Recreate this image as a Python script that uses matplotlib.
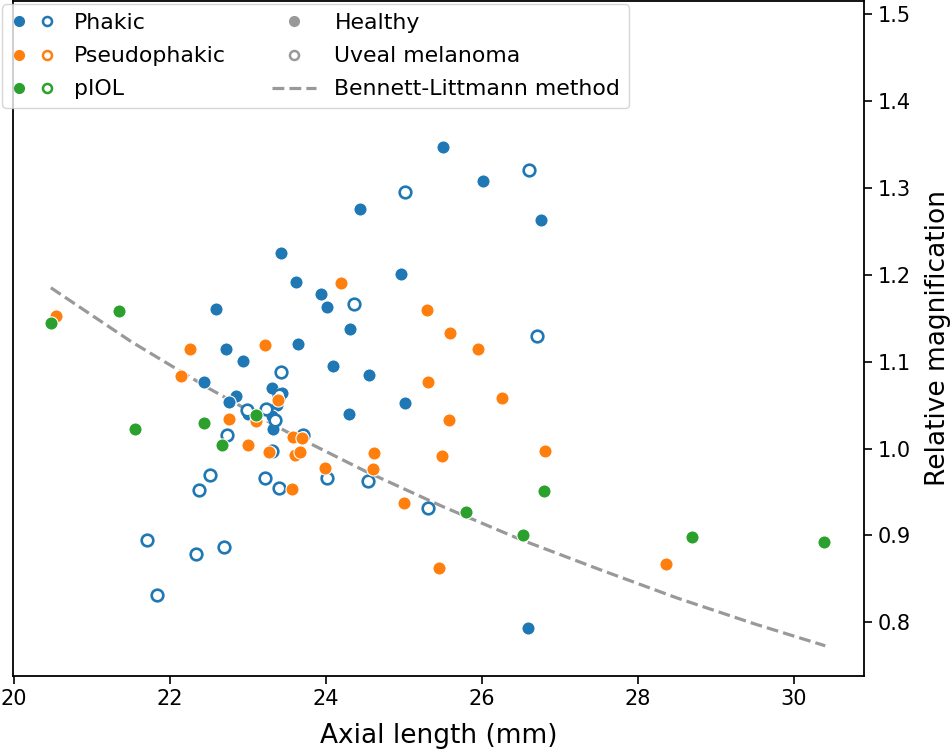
import matplotlib
matplotlib.use("Agg")
import matplotlib.pyplot as plt
from matplotlib.lines import Line2D
from matplotlib.legend_handler import HandlerTuple

# Phakic, healthy (filled)
phakic_h_x = [25.50, 26.01, 26.75, 24.43, 23.42, 23.61, 24.96, 23.94, 24.01, 22.59,
              24.30, 23.64, 22.71, 22.93, 24.09, 24.55, 22.44, 22.85, 22.75, 23.30,
              23.43, 23.37, 25.01, 24.29, 23.00, 23.30, 23.32, 26.59]
phakic_h_y = [1.347, 1.308, 1.263, 1.276, 1.225, 1.192, 1.201, 1.178, 1.163, 1.161,
              1.137, 1.120, 1.115, 1.101, 1.095, 1.085, 1.076, 1.060, 1.054, 1.070,
              1.064, 1.050, 1.052, 1.040, 1.040, 1.037, 1.023, 0.793]

# Phakic, uveal melanoma (open)
phakic_um_x = [26.60, 25.01, 24.36, 26.70, 23.42, 23.40, 22.99, 23.23, 23.35, 23.70,
               22.73, 23.30, 22.51, 22.37, 23.21, 23.40, 24.01, 24.54, 25.31, 21.70,
               22.33, 22.69, 21.83]
phakic_um_y = [1.321, 1.295, 1.166, 1.129, 1.088, 1.062, 1.044, 1.045, 1.033, 1.016,
               1.015, 0.997, 0.970, 0.952, 0.966, 0.954, 0.966, 0.963, 0.931, 0.895,
               0.879, 0.887, 0.832]

# Pseudophakic
pseudo_x = [24.19, 20.53, 25.29, 25.59, 25.95, 23.22, 22.25, 25.30, 22.14, 23.38,
            25.57, 22.75, 23.10, 23.00, 23.27, 23.57, 23.69, 23.60, 23.67, 24.62,
            25.48, 23.98, 24.60, 23.56, 25.00, 26.26, 26.81, 25.45, 28.36]
pseudo_y = [1.190, 1.152, 1.159, 1.133, 1.115, 1.119, 1.114, 1.077, 1.084, 1.056,
            1.033, 1.034, 1.032, 1.004, 0.996, 1.013, 1.012, 0.993, 0.996, 0.995,
            0.991, 0.978, 0.977, 0.953, 0.937, 1.058, 0.997, 0.862, 0.867]

# pIOL
piol_x = [21.34, 20.47, 21.55, 22.43, 23.10, 22.67, 25.79, 26.80, 26.53, 28.69, 30.39]
piol_y = [1.158, 1.145, 1.023, 1.029, 1.039, 1.004, 0.927, 0.951, 0.900, 0.898, 0.892]

# Bennett-Littmann curve
bl_x = [20.47, 21.5, 22.5, 23.5, 24.5, 25.5, 26.5, 27.5, 28.5, 29.5, 30.4]
bl_y = [1.185, 1.123, 1.069, 1.019, 0.974, 0.933, 0.895, 0.861, 0.828, 0.798, 0.773]

blue = "#1f77b4"
orange = "#ff7f0e"
green = "#2ca02c"
grey = "#999999"

fig = plt.figure(figsize=(9.52, 7.51), dpi=100)
ax = fig.add_axes([0.0133, 0.1003, 0.8945, 0.8984])

ax.plot(bl_x, bl_y, "--", color=grey, lw=2.3, zorder=1)

ax.scatter(phakic_h_x, phakic_h_y, s=90, color=blue, edgecolors="white", linewidths=0.8, zorder=2)
ax.scatter(phakic_um_x, phakic_um_y, s=70, facecolors="white", edgecolors=blue, linewidths=1.9, zorder=2)
ax.scatter(pseudo_x, pseudo_y, s=90, color=orange, edgecolors="white", linewidths=0.8, zorder=2)
ax.scatter(piol_x, piol_y, s=90, color=green, edgecolors="white", linewidths=0.8, zorder=2)

ax.set_xlim(19.98, 30.9)
ax.set_ylim(0.7386, 1.515)
ax.set_xticks([20, 22, 24, 26, 28, 30])
ax.set_yticks([0.8, 0.9, 1.0, 1.1, 1.2, 1.3, 1.4, 1.5])
ax.yaxis.tick_right()
ax.yaxis.set_label_position("right")
ax.tick_params(labelsize=15, length=6, width=1.2)
for sp in ax.spines.values():
    sp.set_linewidth(1.3)
ax.set_xlabel("Axial length (mm)", fontsize=19, labelpad=10)
ax.set_ylabel("Relative magnification", fontsize=19, labelpad=10)


def dot(c, filled=True):
    if filled:
        return Line2D([], [], ls="", marker="o", ms=7, mfc=c, mec=c)
    return Line2D([], [], ls="", marker="o", ms=6.5, mfc="white", mec=c, mew=1.8)


handles = [(dot(blue), dot(blue, False)),
           (dot(orange), dot(orange, False)),
           (dot(green), dot(green, False)),
           dot(grey), dot(grey, False),
           Line2D([], [], ls="--", color=grey, lw=2.3)]
labels = ["Phakic", "Pseudophakic", "pIOL", "Healthy", "Uveal melanoma",
          "Bennett-Littmann method"]

ax.legend(handles, labels, ncol=2, loc="upper left", bbox_to_anchor=(-0.012, 0.995),
          borderaxespad=0, fontsize=15.8, handlelength=2.0, handletextpad=0.85,
          columnspacing=2.1, labelspacing=0.6,
          handler_map={tuple: HandlerTuple(ndivide=None, pad=0.6)})

fig.savefig("out.png", dpi=100)
